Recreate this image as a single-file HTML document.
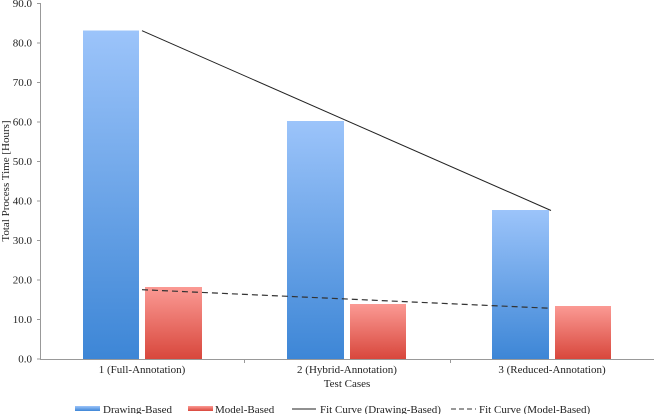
<!DOCTYPE html>
<html><head><style>body{margin:0;background:#fff}svg{display:block}text{font-family:"Liberation Serif",serif;font-size:11px;fill:#222}</style></head>
<body>
<svg width="655" height="414" viewBox="0 0 655 414">
<defs>
<linearGradient id="b" x1="0" y1="0" x2="0" y2="1"><stop offset="0" stop-color="#9cc4fa"/><stop offset="1" stop-color="#3d86d6"/></linearGradient>
<linearGradient id="r" x1="0" y1="0" x2="0" y2="1"><stop offset="0" stop-color="#fb9a94"/><stop offset="1" stop-color="#d8473c"/></linearGradient>
</defs>
<g stroke="#999" stroke-width="1">
<line x1="40.5" y1="3" x2="40.5" y2="359"/>
<line x1="40" y1="359.5" x2="654" y2="359.5"/>
<line x1="37" y1="3.5" x2="40" y2="3.5"/><line x1="37" y1="43" x2="40" y2="43"/><line x1="37" y1="82.5" x2="40" y2="82.5"/><line x1="37" y1="122" x2="40" y2="122"/><line x1="37" y1="161.5" x2="40" y2="161.5"/><line x1="37" y1="201" x2="40" y2="201"/><line x1="37" y1="240.5" x2="40" y2="240.5"/><line x1="37" y1="280" x2="40" y2="280"/><line x1="37" y1="319.5" x2="40" y2="319.5"/><line x1="37" y1="359" x2="40" y2="359"/>
<line x1="244.5" y1="359" x2="244.5" y2="363"/><line x1="450.5" y1="359" x2="450.5" y2="363"/>
</g>
<g text-anchor="end">
<text x="32" y="7">90.0</text><text x="32" y="46.5">80.0</text><text x="32" y="86">70.0</text><text x="32" y="125.5">60.0</text><text x="32" y="165">50.0</text><text x="32" y="204.5">40.0</text><text x="32" y="244">30.0</text><text x="32" y="283.5">20.0</text><text x="32" y="323">10.0</text><text x="32" y="362.5">0.0</text>
</g>
<text transform="translate(9,181) rotate(-90)" text-anchor="middle">Total Process Time [Hours]</text>
<rect x="83" y="30.5" width="56" height="328.5" fill="url(#b)"/>
<rect x="145" y="287" width="57" height="72" fill="url(#r)"/>
<rect x="287" y="121" width="57" height="238" fill="url(#b)"/>
<rect x="350" y="304" width="56" height="55" fill="url(#r)"/>
<rect x="492" y="210" width="57" height="149" fill="url(#b)"/>
<rect x="555" y="306" width="56" height="53" fill="url(#r)"/>
<line x1="142" y1="30.7" x2="551" y2="210.5" stroke="#222" stroke-width="1"/>
<line x1="142" y1="289.7" x2="551" y2="308.3" stroke="#333" stroke-width="1.2" stroke-dasharray="6,4"/>
<g text-anchor="middle">
<text x="142" y="373">1 (Full-Annotation)</text>
<text x="347" y="373">2 (Hybrid-Annotation)</text>
<text x="552" y="373">3 (Reduced-Annotation)</text>
<text x="347" y="387">Test Cases</text>
</g>
<rect x="75" y="406" width="25" height="5" fill="url(#b)"/><text x="103" y="413">Drawing-Based</text>
<rect x="188" y="406" width="25" height="5" fill="url(#r)"/><text x="215" y="413">Model-Based</text>
<line x1="292" y1="409" x2="316" y2="409" stroke="#222"/><text x="320" y="413">Fit Curve (Drawing-Based)</text>
<line x1="451" y1="409" x2="476" y2="409" stroke="#333" stroke-dasharray="5,3"/><text x="479" y="413">Fit Curve (Model-Based)</text>
</svg>
</body></html>
